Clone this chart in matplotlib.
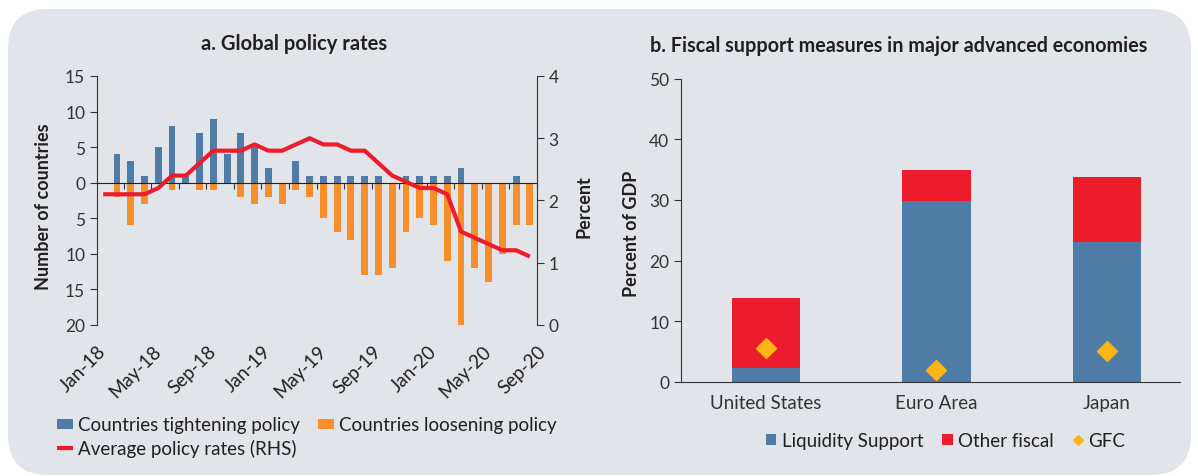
import numpy as np
import matplotlib.pyplot as plt
import matplotlib.transforms as mtransforms
from matplotlib.patches import FancyBboxPatch
from matplotlib.ticker import FuncFormatter

plt.rcParams['font.family'] = ['Lato', 'DejaVu Sans']
plt.rcParams['font.size'] = 13.5
plt.rcParams['text.color'] = '#231f20'
plt.rcParams['axes.labelcolor'] = '#231f20'
plt.rcParams['xtick.color'] = '#333333'
plt.rcParams['ytick.color'] = '#333333'

# panel a: monthly, Jan-18 .. Aug-20 (32 months); bars start in Feb-18
tightening = [0, 4, 3, 1, 5, 8, 1, 7, 9, 4, 7, 5, 2, 0, 3, 1, 1, 1, 1, 1, 1, 0,
              1, 1, 1, 1, 2, 0, 0, 0, 1, 0]
loosening = [0, -2, -6, -3, 0, -1, 0, -1, -1, 0, -2, -3, -2, -3, -1, -2, -5, -7,
             -8, -13, -13, -12, -7, -5, -6, -11, -20, -12, -14, -10, -6, -6]
avg_rate = [2.1, 2.1, 2.1, 2.1, 2.2, 2.4, 2.4, 2.6, 2.8, 2.8, 2.8, 2.9, 2.8, 2.8,
            2.9, 3.0, 2.9, 2.9, 2.8, 2.8, 2.6, 2.4, 2.3, 2.2, 2.2, 2.1, 1.5, 1.4,
            1.3, 1.2, 1.2, 1.1]
month_labels = ['Jan-18', 'May-18', 'Sep-18', 'Jan-19', 'May-19', 'Sep-19',
                'Jan-20', 'May-20', 'Sep-20']

# panel b
economies = ['United States', 'Euro Area', 'Japan']
liquidity = [2.3, 29.8, 23.0]
other_fiscal = [11.5, 5.1, 10.8]
gfc = [5.6, 2.0, 5.0]

blue = '#4f7ba7'
orange = '#f68e2a'
red = '#ec1c2d'
gold = '#fdb515'
panel = '#e1e4e9'
dark = '#333333'

fig = plt.figure(figsize=(11.98, 4.77), dpi=100)
fig.patch.set_facecolor('white')
bg = FancyBboxPatch((0.08, 0.01), 11.83, 4.66,
                    boxstyle='round,pad=0,rounding_size=0.4',
                    transform=fig.dpi_scale_trans, facecolor=panel,
                    edgecolor='none', zorder=-10)
fig.patches.append(bg)

# ---- panel a ----
ax = fig.add_axes([0.081, 0.3166, 0.367, 0.522])
ax.set_facecolor('none')
x = np.arange(len(avg_rate))
ax.bar(x, tightening, width=0.5, color=blue, label='Countries tightening policy')
ax.bar(x, loosening, width=0.5, color=orange, label='Countries loosening policy')
ax.set_xlim(-0.45, 31.5)
ax.set_ylim(-20, 15)
ax.set_yticks(np.arange(-20, 16, 5))
ax.yaxis.set_major_formatter(FuncFormatter(lambda v, p: f'{abs(int(v))}'))
ax.spines['top'].set_visible(False)
ax.spines['right'].set_visible(False)
ax.spines['left'].set_color(dark)
ax.spines['bottom'].set_position(('data', 0))
ax.spines['bottom'].set_color('#222222')
ax.set_xticks(np.arange(1.5, 32, 2))
ax.tick_params(axis='x', length=4, labelbottom=False, color=dark)
ax.tick_params(axis='y', length=5, color=dark, labelsize=12.5)
ax.set_ylabel('Number of countries', fontweight='bold', fontsize=13)
ax.yaxis.set_label_coords(-0.102, 0.478)

# month labels every 4 months, below the plot area
lab_tr = (mtransforms.blended_transform_factory(ax.transData, ax.transAxes)
          + mtransforms.ScaledTranslation(0, -0.23, fig.dpi_scale_trans))
for pos, lab in zip(np.arange(0, 33, 4), month_labels):
    ax.text(pos, 0, lab, transform=lab_tr, rotation=45, ha='right', va='center',
            rotation_mode='anchor', fontsize=13.5, color='#231f20', clip_on=False)

ax2 = ax.twinx()
ax2.plot(x, avg_rate, color=red, lw=3, label='Average policy rates (RHS)',
         solid_capstyle='butt')
ax2.set_ylim(0, 4)
ax2.set_yticks([0, 1, 2, 3, 4])
for s in ['top', 'bottom', 'left']:
    ax2.spines[s].set_visible(False)
ax2.spines['right'].set_color(dark)
ax2.tick_params(axis='y', length=5, color=dark, labelsize=12.5)
ax2.set_ylabel('Percent', fontweight='bold', fontsize=13)
ax2.yaxis.set_label_coords(1.088, 0.478)

h1, l1 = ax.get_legend_handles_labels()
h2, l2 = ax2.get_legend_handles_labels()
fig.legend([h1[0], h2[0], h1[1]], [l1[0], l2[0], l1[1]], ncol=2,
           loc='upper left', bbox_to_anchor=(0.0476, 0.125), frameon=False,
           handlelength=0.85, handleheight=0.45, handletextpad=0.25,
           columnspacing=1.0, labelspacing=0.3, fontsize=13.5,
           borderaxespad=0, borderpad=0)

fig.text(0.2454, 0.908, 'a. Global policy rates', ha='center', va='center',
         fontweight='bold', fontsize=14.5)

# ---- panel b ----
bx = fig.add_axes([0.5684, 0.1977, 0.4166, 0.635])
bx.set_facecolor('none')
xb = np.arange(len(economies))
bx.bar(xb, liquidity, width=0.4, color=blue, label='Liquidity Support')
bx.bar(xb, other_fiscal, width=0.4, bottom=liquidity, color=red,
       label='Other fiscal')
bx.plot(xb, gfc, 'D', color=gold, ms=10.5, label='GFC')
bx.set_xlim(-0.5, 2.43)
bx.set_ylim(0, 50)
bx.set_yticks(np.arange(0, 51, 10))
bx.set_xticks(xb)
bx.set_xticklabels(economies)
bx.spines['top'].set_visible(False)
bx.spines['right'].set_visible(False)
bx.spines['left'].set_color(dark)
bx.spines['bottom'].set_color(dark)
bx.tick_params(axis='x', length=0, pad=9, labelsize=13.5)
bx.tick_params(axis='y', length=5, color=dark, labelsize=12.5)
bx.set_ylabel('Percent of GDP', fontweight='bold', fontsize=13)
bx.yaxis.set_label_coords(-0.082, 0.49)

hb, lb = bx.get_legend_handles_labels()
fig.legend([hb[1], hb[2], hb[0]], [lb[1], lb[2], lb[0]], ncol=3,
           loc='center left', bbox_to_anchor=(0.6394, 0.0735), frameon=False,
           handlelength=0.55, handleheight=0.55, handletextpad=0.3,
           columnspacing=1.0, fontsize=13.5, markerscale=0.45,
           borderaxespad=0, borderpad=0)

fig.text(0.7504, 0.904, 'b. Fiscal support measures in major advanced economies',
         ha='center', va='center', fontweight='bold', fontsize=14.2)

fig.savefig('out.png', dpi=100, facecolor=fig.get_facecolor())
